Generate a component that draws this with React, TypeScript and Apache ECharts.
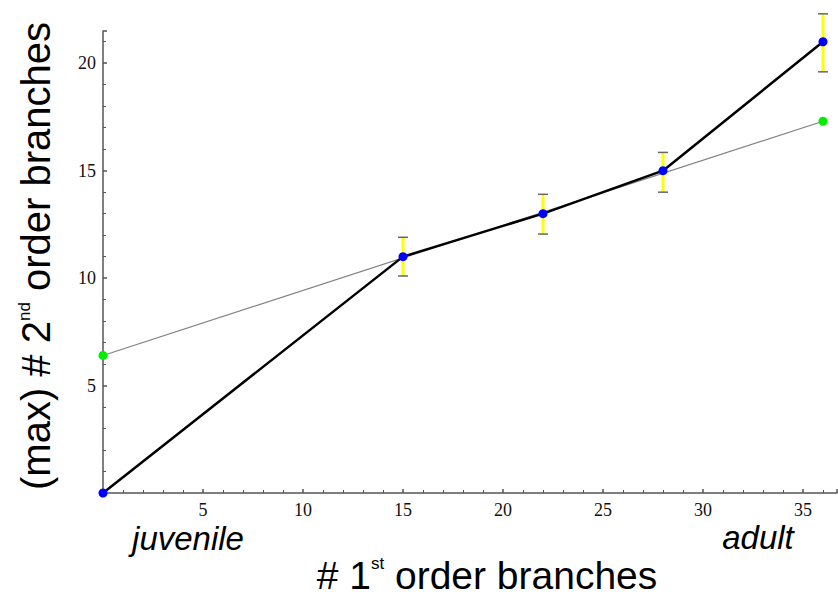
import React, { useEffect, useRef } from "react";
import * as echarts from "echarts";

// # 1st order branches (x) vs (max) # 2nd order branches (y)
const xValues = [0, 15, 22, 28, 36];
const yValues = [0, 11, 13, 15, 21];
const errLow = [null, 10.1, 12.05, 14.0, 19.6];
const errHigh = [null, 11.9, 13.9, 15.85, 22.3];
const fitX = [0, 36];
const fitY = [6.4, 17.3];
const stageLabels = ["juvenile", "adult"];

export default function App() {
  const ref = useRef<HTMLDivElement>(null);
  useEffect(() => {
    if (!ref.current) return;
    const chart = echarts.init(ref.current, undefined, { renderer: "svg" });
    const mainData = xValues.map((x, i) => [x, yValues[i]]);
    const fitData = fitX.map((x, i) => [x, fitY[i]]);
    const errData = xValues
      .map((x, i) => [x, errLow[i], errHigh[i]])
      .filter((d) => d[1] != null);

    const axisLineStyle = { color: "#555", width: 1.5 };
    const labelStyle = {
      fontFamily: "Liberation Serif",
      fontSize: 18,
      color: "#111",
    };

    chart.setOption({
      animation: false,
      backgroundColor: "#fff",
      grid: { left: 103, top: 31, right: 1, bottom: 103, containLabel: false },
      xAxis: {
        type: "value",
        min: 0,
        max: 36.7,
        interval: 5,
        axisLine: { show: true, lineStyle: axisLineStyle, onZero: false },
        axisTick: { show: true, inside: true, length: 4, lineStyle: axisLineStyle },
        minorTick: { show: true, splitNumber: 5, length: 3, lineStyle: { color: "#555", width: 1 } },
        splitLine: { show: false },
        axisLabel: {
          ...labelStyle,
          margin: 8,
          showMinLabel: false,
          showMaxLabel: false,
          formatter: (v: number) => (v % 5 === 0 && v > 0 ? String(v) : ""),
        },
      },
      yAxis: {
        type: "value",
        min: 0,
        max: 21.5,
        interval: 5,
        axisLine: { show: true, lineStyle: axisLineStyle, onZero: false },
        axisTick: { show: true, inside: true, length: 4, lineStyle: axisLineStyle },
        minorTick: { show: true, splitNumber: 5, length: 3, lineStyle: { color: "#555", width: 1 } },
        splitLine: { show: false },
        axisLabel: {
          ...labelStyle,
          margin: 7,
          showMinLabel: false,
          showMaxLabel: false,
          formatter: (v: number) => (v % 5 === 0 && v > 0 ? String(v) : ""),
        },
      },
      series: [
        {
          type: "custom",
          clip: false,
          z: 1,
          data: errData,
          renderItem: (params: any, api: any) => {
            const x = api.value(0);
            const lo = api.coord([x, api.value(1)]);
            const hi = api.coord([x, api.value(2)]);
            const cw = 5;
            return {
              type: "group",
              children: [
                {
                  type: "line",
                  shape: { x1: lo[0], y1: lo[1], x2: hi[0], y2: hi[1] },
                  style: { stroke: "#ffff00", lineWidth: 3 },
                },
                {
                  type: "line",
                  shape: { x1: lo[0] - cw, y1: lo[1], x2: lo[0] + cw, y2: lo[1] },
                  style: { stroke: "#666", lineWidth: 1.5 },
                },
                {
                  type: "line",
                  shape: { x1: hi[0] - cw, y1: hi[1], x2: hi[0] + cw, y2: hi[1] },
                  style: { stroke: "#666", lineWidth: 1.5 },
                },
              ],
            };
          },
        },
        {
          type: "line",
          clip: false,
          z: 2,
          data: fitData,
          symbol: "circle",
          symbolSize: 9,
          showSymbol: true,
          itemStyle: { color: "#00ee00" },
          lineStyle: { color: "#808080", width: 1.2 },
        },
        {
          type: "line",
          clip: false,
          z: 3,
          data: mainData,
          symbol: "circle",
          symbolSize: 9,
          showSymbol: true,
          itemStyle: { color: "#0000ff" },
          lineStyle: { color: "#000", width: 2.5 },
        },
      ],
      graphic: [
        {
          type: "text",
          x: 188,
          y: 538,
          style: {
            text: stageLabels[0],
            font: "italic 33px 'Liberation Sans'",
            fill: "#000",
            align: "center",
            verticalAlign: "middle",
          },
        },
        {
          type: "text",
          x: 758,
          y: 537,
          style: {
            text: stageLabels[1],
            font: "italic 33px 'Liberation Sans'",
            fill: "#000",
            align: "center",
            verticalAlign: "middle",
          },
        },
        {
          type: "text",
          x: 487,
          y: 575,
          style: {
            text: "{a|# 1}{s|st}{a| order branches}",
            align: "center",
            verticalAlign: "middle",
            rich: {
              a: { fontFamily: "Liberation Sans", fontSize: 39, color: "#000", lineHeight: 40 },
              s: { fontFamily: "Liberation Sans", fontSize: 17, color: "#000", verticalAlign: "top", lineHeight: 40 },
            },
          },
        },
        {
          type: "text",
          x: 36,
          y: 256,
          rotation: Math.PI / 2,
          style: {
            text: "{a|(max) # 2}{s|nd}{a| order branches}",
            align: "center",
            verticalAlign: "middle",
            rich: {
              a: { fontFamily: "Liberation Sans", fontSize: 40, color: "#000", lineHeight: 40 },
              s: { fontFamily: "Liberation Sans", fontSize: 17, color: "#000", verticalAlign: "top", lineHeight: 40 },
            },
          },
        },
      ],
    });
    return () => chart.dispose();
  }, []);
  return (
    <div
      ref={ref}
      style={{ position: "fixed", left: 0, top: 0, width: 838, height: 596, background: "#fff" }}
    />
  );
}
